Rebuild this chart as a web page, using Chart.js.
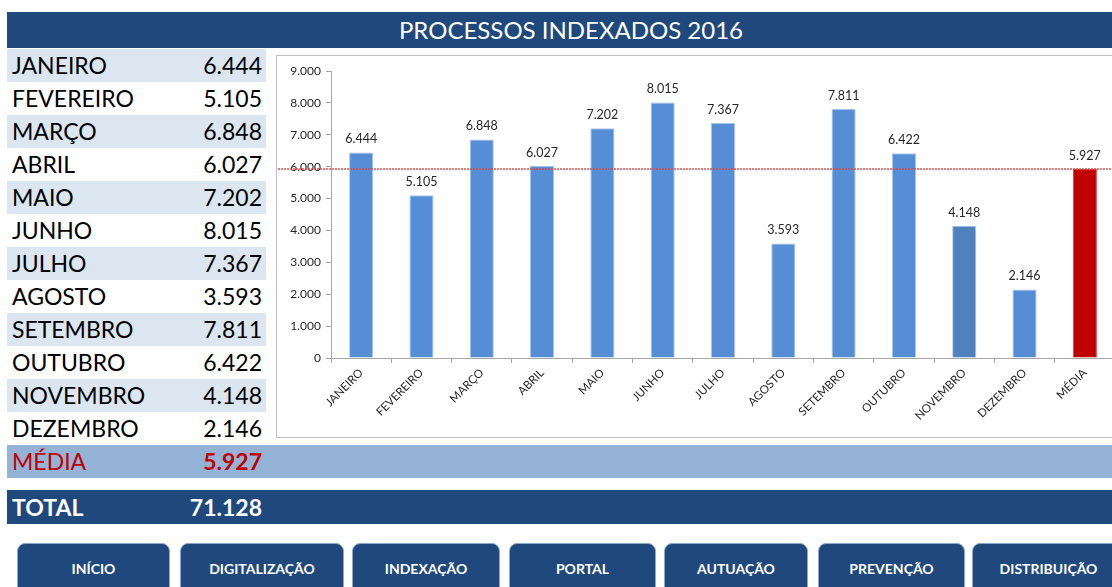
<!DOCTYPE html>
<html>
<head>
<meta charset="utf-8">
<script src="https://cdn.jsdelivr.net/npm/chart.js@4/dist/chart.umd.min.js"></script>
<style>
  html, body { margin: 0; padding: 0; background: #fff; }
  body { width: 1112px; height: 587px; overflow: hidden; position: relative; font-family: Lato, "Open Sans", sans-serif; }
  .titlebar { position: absolute; left: 7px; top: 12px; width: 1120px; height: 36px; background: #1F497D;
    color: #fff; font-size: 24px; line-height: 36px; }
  .titlebar span { position: absolute; left: 384px; width: 360px; text-align: center; }
  .row { position: absolute; left: 7px; width: 259px; height: 33px; font-size: 23px; line-height: 33px; color: #000; }
  .row.alt { background: #DCE6F1; }
  .row .lbl { position: absolute; left: 5px; }
  .row .val { position: absolute; right: 4px; }
  .media { position: absolute; left: 7px; top: 445px; width: 1120px; height: 33px; background: #95B3D7;
    color: #C00000; font-size: 23px; line-height: 33px; }
  .total { position: absolute; left: 7px; top: 490px; width: 1120px; height: 34px; background: #1F497D;
    color: #fff; font-size: 23px; line-height: 34px; font-weight: bold; }
  .media .lbl, .total .lbl { position: absolute; left: 5px; }
  .media .val, .total .val { position: absolute; right: 865px; font-weight: bold; }
  .box { position: absolute; left: 276px; top: 55px; width: 860px; height: 381px; border: 1px solid #BFBFBF; }
  .btn { position: absolute; top: 543px; height: 56px; background: #1F497D; border: 1px solid #8EA9C8;
    border-radius: 8px; color: #fff; font-weight: bold; font-size: 14px; text-align: center;
    line-height: 50px; box-sizing: border-box; }
</style>
</head>
<body>
<div class="titlebar"><span>PROCESSOS INDEXADOS 2016</span></div>
<div id="table"></div>
<div class="media"><span class="lbl">MÉDIA</span><span class="val">5.927</span></div>
<div class="total"><span class="lbl">TOTAL</span><span class="val">71.128</span></div>
<div class="box"><canvas id="chart"></canvas></div>
<div id="buttons"></div>
<script>
const meses = ["JANEIRO", "FEVEREIRO", "MARÇO", "ABRIL", "MAIO", "JUNHO", "JULHO", "AGOSTO",
  "SETEMBRO", "OUTUBRO", "NOVEMBRO", "DEZEMBRO"];
const processos = [6444, 5105, 6848, 6027, 7202, 8015, 7367, 3593, 7811, 6422, 4148, 2146];
const media = 5927;
const total = 71128;
const botoes = ["INÍCIO", "DIGITALIZAÇÃO", "INDEXAÇÃO", "PORTAL", "AUTUAÇÃO", "PREVENÇÃO", "DISTRIBUIÇÃO"];
const botoesX = [[17, 170], [180, 344], [352, 500], [509, 656], [664, 808], [818, 965], [972, 1125]];

// formato 9.000
function fmt(v) {
  return String(Math.round(v)).replace(/\B(?=(\d{3})+(?!\d))/g, ".");
}

// tabela da esquerda
const table = document.getElementById("table");
meses.forEach((m, i) => {
  const div = document.createElement("div");
  div.className = "row" + (i % 2 === 0 ? " alt" : "");
  div.style.top = (49 + i * 33) + "px";
  div.innerHTML = `<span class="lbl">${m}</span><span class="val">${fmt(processos[i])}</span>`;
  table.appendChild(div);
});
document.querySelector(".media .val").textContent = fmt(media);
document.querySelector(".total .val").textContent = fmt(total);

// botões
const btns = document.getElementById("buttons");
botoes.forEach((b, i) => {
  const div = document.createElement("div");
  div.className = "btn";
  div.style.left = botoesX[i][0] + "px";
  div.style.width = (botoesX[i][1] - botoesX[i][0]) + "px";
  div.textContent = b;
  btns.appendChild(div);
});

const labels = meses.concat(["MÉDIA"]);
const valores = processos.concat([media]);
const cores = labels.map((l, i) => (i === 12 ? "#C00000" : i === 10 ? "#4F81BD" : "#558ED5"));
const bordas = labels.map((l, i) => (i === 12 ? "#D04040" : "#A9C4EB"));
const fonte = "Lato, 'Open Sans', sans-serif";

const valueLabels = {
  id: "valueLabels",
  afterDatasetsDraw(chart) {
    const { ctx } = chart;
    const meta = chart.getDatasetMeta(0);
    ctx.save();
    ctx.font = "12.5px " + fonte;
    ctx.fillStyle = "#262626";
    ctx.textAlign = "center";
    ctx.textBaseline = "bottom";
    meta.data.forEach((bar, i) => {
      ctx.fillText(fmt(valores[i]), bar.x, bar.y - 7);
    });
    ctx.restore();
  },
};

// linha pontilhada da média
const mediaLine = {
  id: "mediaLine",
  afterDatasetsDraw(chart) {
    const { ctx } = chart;
    const y = Math.round(chart.scales.y.getPixelForValue(media));
    ctx.save();
    ctx.strokeStyle = "rgba(220, 70, 70, 0.7)";
    ctx.lineWidth = 2;
    ctx.setLineDash([2, 1]);
    ctx.beginPath();
    ctx.moveTo(1, y);
    ctx.lineTo(chart.width, y);
    ctx.stroke();
    ctx.restore();
  },
};

new Chart(document.getElementById("chart"), {
  type: "bar",
  data: {
    labels: labels,
    datasets: [
      {
        data: valores,
        backgroundColor: cores,
        borderColor: bordas,
        borderWidth: 1,
        categoryPercentage: 1,
        barPercentage: 0.4,
      },
    ],
  },
  options: {
    responsive: true,
    maintainAspectRatio: false,
    animation: false,
    layout: { padding: { top: 15, right: 22, left: 0, bottom: 0 } },
    plugins: { legend: { display: false }, tooltip: { enabled: false } },
    scales: {
      x: {
        grid: { display: true, offset: true, drawOnChartArea: false, tickLength: 5, color: "#A6A6A6" },
        border: { color: "#A6A6A6" },
        ticks: {
          maxRotation: 45,
          minRotation: 45,
          autoSkip: false,
          color: "#262626",
          font: { size: 11.5, family: fonte },
        },
        afterFit: (s) => { s.height = 79; },
      },
      y: {
        min: 0,
        max: 9000,
        grid: { drawOnChartArea: false, tickLength: 5, color: "#A6A6A6" },
        border: { color: "#A6A6A6" },
        ticks: {
          stepSize: 1000,
          color: "#262626",
          padding: 5,
          font: { size: 12, family: fonte },
          callback: (v) => fmt(v),
        },
        afterFit: (s) => { s.width = 54; },
      },
    },
  },
  plugins: [valueLabels, mediaLine],
});
</script>
</body>
</html>
